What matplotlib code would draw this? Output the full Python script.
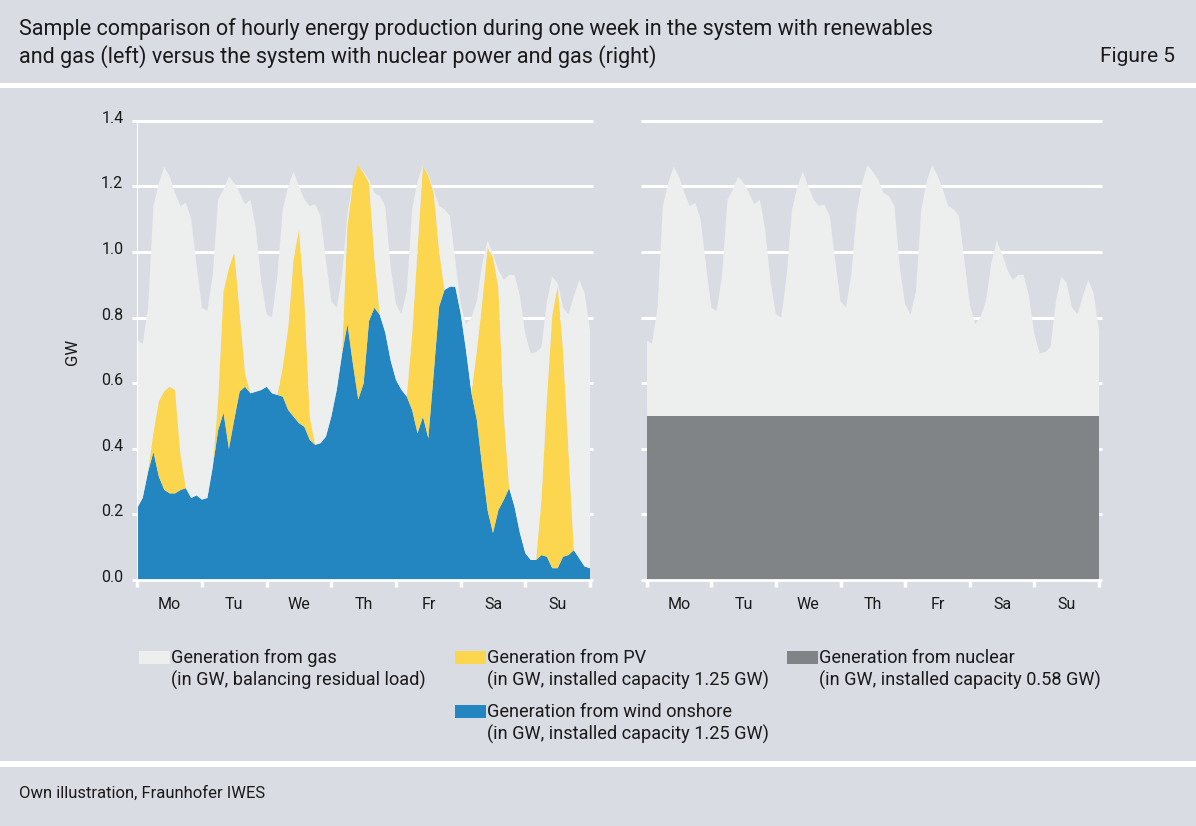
import numpy as np
import matplotlib.pyplot as plt
from matplotlib.patches import Rectangle
from matplotlib.transforms import ScaledTranslation

plt.rcParams['font.family'] = ['Roboto', 'DejaVu Sans']

hours = np.arange(0, 170, 2)

load = [
    0.73, 0.72, 0.83, 1.14, 1.21, 1.26, 1.23, 1.18, 1.14, 1.15, 1.10, 0.96,
    0.83, 0.82, 0.93, 1.16, 1.19, 1.23, 1.21, 1.18, 1.145, 1.16, 1.07, 0.91,
    0.81, 0.80, 0.93, 1.13, 1.20, 1.245, 1.20, 1.16, 1.14, 1.145, 1.11, 0.975,
    0.85, 0.83, 0.93, 1.12, 1.21, 1.265, 1.245, 1.22, 1.18, 1.17, 1.14, 0.955,
    0.84, 0.81, 0.88, 1.13, 1.215, 1.265, 1.235, 1.19, 1.14, 1.13, 1.11, 0.975,
    0.84, 0.78, 0.80, 0.85, 0.965, 1.035, 0.995, 0.945, 0.915, 0.93, 0.93, 0.865,
    0.75, 0.69, 0.695, 0.71, 0.85, 0.925, 0.905, 0.83, 0.81, 0.865, 0.915, 0.875,
    0.76,
]

wind = [
    0.22, 0.25, 0.33, 0.39, 0.315, 0.275, 0.264, 0.264, 0.274, 0.28, 0.25, 0.258,
    0.245, 0.25, 0.345, 0.457, 0.51, 0.40, 0.49, 0.575, 0.589, 0.569, 0.574, 0.579,
    0.589, 0.569, 0.564, 0.559, 0.518, 0.498, 0.478, 0.467, 0.427, 0.412, 0.417, 0.437,
    0.498, 0.579, 0.69, 0.78, 0.66, 0.55, 0.60, 0.79, 0.83, 0.808, 0.755, 0.67,
    0.61, 0.58, 0.559, 0.518, 0.447, 0.498, 0.432, 0.63, 0.833, 0.884, 0.894, 0.894,
    0.813, 0.70, 0.57, 0.488, 0.345, 0.213, 0.143, 0.213, 0.244, 0.28, 0.223, 0.143,
    0.082, 0.061, 0.061, 0.076, 0.071, 0.036, 0.036, 0.071, 0.076, 0.091, 0.066, 0.041,
    0.036,
]

pv = [
    0, 0, 0, 0.06, 0.23, 0.30, 0.325, 0.315, 0.11, 0, 0, 0,
    0, 0, 0, 0.09, 0.37, 0.55, 0.51, 0.24, 0.04, 0, 0, 0,
    0, 0, 0, 0.09, 0.25, 0.48, 0.59, 0.39, 0.07, 0, 0, 0,
    0, 0, 0, 0.30, 0.55, 0.715, 0.64, 0.42, 0.15, 0, 0, 0,
    0, 0, 0, 0.23, 0.56, 0.765, 0.80, 0.55, 0.17, 0, 0, 0,
    0, 0, 0, 0.21, 0.50, 0.80, 0.84, 0.68, 0.26, 0, 0, 0,
    0, 0, 0, 0.17, 0.48, 0.77, 0.86, 0.63, 0.32, 0, 0, 0,
    0,
]

nuclear = 0.5

days = ["Mo", "Tu", "We", "Th", "Fr", "Sa", "Su"]
yticks = [0.0, 0.2, 0.4, 0.6, 0.8, 1.0, 1.2, 1.4]

BG = "#d9dce3"
GAS = "#edeeee"
PV_COL = "#fcd64f"
WIND_COL = "#2386c1"
NUC_COL = "#818487"
TXT = "#1a1a1a"

W, H = 1196, 826
fig = plt.figure(figsize=(W / 100, H / 100), dpi=100, facecolor=BG)


def px_axes(x0, y0, x1, y1):
    # Achsen in Pixelkoordinaten (oben links = 0,0)
    return fig.add_axes([x0 / W, 1 - y1 / H, (x1 - x0) / W, (y1 - y0) / H])


load_a = np.array(load)
wind_a = np.array(wind)
pv_a = np.array(pv)
gas = np.clip(load_a - wind_a - pv_a, 0, None)
nuc = np.full_like(load_a, nuclear)

ax1 = px_axes(137.3, 120.7, 590, 580)
ax2 = px_axes(646.7, 120.7, 1099, 580)

ax1.stackplot(hours, wind_a, pv_a, gas, colors=[WIND_COL, PV_COL, GAS], lw=0, zorder=2)
ax2.stackplot(hours, nuc, load_a - nuc, colors=[NUC_COL, GAS], lw=0, zorder=2)

for ax in (ax1, ax2):
    ax.set_facecolor("none")
    ax.set_xlim(0, 168)
    ax.set_ylim(0, 1.4)
    for s in ax.spines.values():
        s.set_visible(False)
    # weisse Gitterlinien mit kleinen Ueberstaenden links/rechts
    ax.hlines(yticks[1:], -2, 169.2, color="white", lw=2.2, zorder=0, clip_on=False)
    ax.hlines(0, -2, 169.2, color="white", lw=2, zorder=3, clip_on=False)
    ax.vlines(np.arange(0, 169, 24), -0.02, 0, color="white", lw=2.5, zorder=3, clip_on=False)
    ax.set_xticks(np.arange(12, 168, 24))
    ax.set_xticklabels(days, fontsize=11.5, color=TXT)
    ax.tick_params(axis="x", length=0, pad=12)
    ax.set_yticks(yticks)
    ax.tick_params(axis="y", length=0, pad=10)

ax1.set_yticklabels([f"{v:.1f}" for v in yticks], fontsize=11.5, color=TXT)
ax2.set_yticklabels([])
# Beschriftungen etwas ueber den Gitterlinien wie im Original
shift = ScaledTranslation(0, 4 / 100, fig.dpi_scale_trans)
for lab in ax1.get_yticklabels():
    lab.set_transform(lab.get_transform() + shift)
ax1.vlines(-0.4, 0, 1.4, color="white", lw=2.2, zorder=3)

fig.text(72 / W, 1 - 352 / H, "GW", rotation=90, ha="center", va="center", fontsize=12, color=TXT)

# Kopf und Fuss
fig.text(19 / W, 1 - 29 / H,
         "Sample comparison of hourly energy production during one week in the system with renewables",
         ha="left", va="center", fontsize=15.5, color=TXT)
fig.text(19 / W, 1 - 57 / H,
         "and gas (left) versus the system with nuclear power and gas (right)",
         ha="left", va="center", fontsize=15.5, color=TXT)
fig.text(1175 / W, 1 - 57 / H, "Figure 5", ha="right", va="center", fontsize=15, color=TXT)
fig.patches.append(Rectangle((0, 1 - 88 / H), 1, 5 / H, transform=fig.transFigure,
                             facecolor="white", edgecolor="none"))
fig.patches.append(Rectangle((0, 1 - 767 / H), 1, 6 / H, transform=fig.transFigure,
                             facecolor="white", edgecolor="none"))
fig.text(19 / W, 1 - 793 / H, "Own illustration, Fraunhofer IWES",
         ha="left", va="center", fontsize=12, color=TXT)

# Legende von Hand
legend = [
    (139, 658, GAS, "Generation from gas", "(in GW, balancing residual load)"),
    (455, 658, PV_COL, "Generation from PV", "(in GW, installed capacity 1.25 GW)"),
    (787, 658, NUC_COL, "Generation from nuclear", "(in GW, installed capacity 0.58 GW)"),
    (455, 712, WIND_COL, "Generation from wind onshore", "(in GW, installed capacity 1.25 GW)"),
]
for x, y, col, l1, l2 in legend:
    fig.patches.append(Rectangle((x / W, 1 - (y + 6) / H), 31 / W, 13 / H,
                                 transform=fig.transFigure, facecolor=col, edgecolor="none"))
    fig.text((x + 32) / W, 1 - y / H, l1, ha="left", va="center", fontsize=13.1, color=TXT)
    fig.text((x + 32) / W, 1 - (y + 22) / H, l2, ha="left", va="center", fontsize=13.1, color=TXT)

fig.savefig("out.png", dpi=100, facecolor=BG)
